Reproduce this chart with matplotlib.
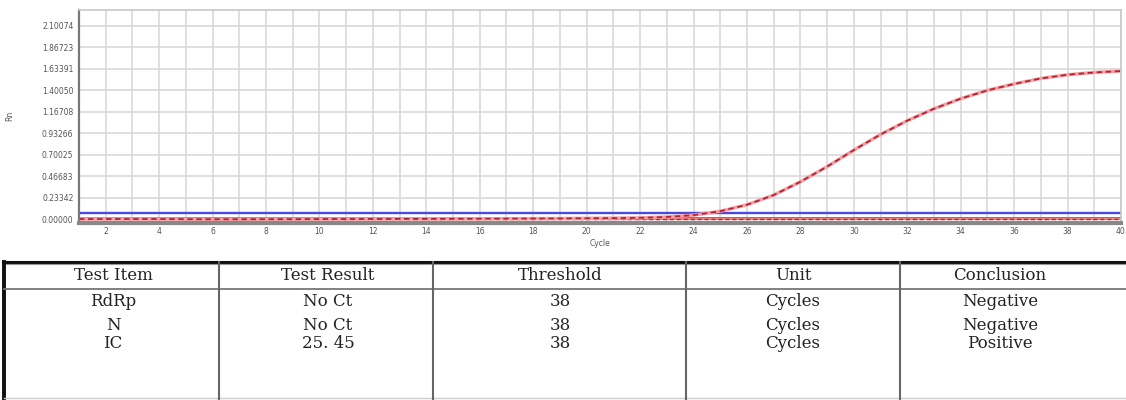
import numpy as np
import matplotlib.pyplot as plt
from matplotlib.ticker import MultipleLocator

# amplification data
cycles = list(range(1, 41))
ic_rn = [0.0, 0.0, 0.0, 0.0, -0.002, -0.003, -0.003, -0.002, -0.002, -0.001,
         0.0, 0.0, 0.001, 0.001, 0.002, 0.003, 0.004, 0.005, 0.006, 0.008,
         0.010, 0.013, 0.022, 0.042, 0.085, 0.155, 0.26, 0.405, 0.57, 0.75,
         0.92, 1.07, 1.20, 1.31, 1.40, 1.47, 1.53, 1.57, 1.595, 1.61]
flat_rn = [0.0] * 40
blue_threshold = 0.062
red_threshold = 0.008

ytick_labels = ["0.00000", "0.23342", "0.46683", "0.70025", "0.93266",
                "1.16708", "1.40050", "1.63391", "1.86723", "2.10074"]
xtick_values = list(range(2, 41, 2))

# result table
col_headers = ["Test Item", "Test Result", "Threshold", "Unit", "Conclusion"]
test_items = ["RdRp", "N", "IC"]
test_results = ["No Ct", "No Ct", "25. 45"]
thresholds = ["38", "38", "38"]
units = ["Cycles", "Cycles", "Cycles"]
conclusions = ["Negative", "Negative", "Positive"]


def main():
    W, H = 1126, 400
    fig = plt.figure(figsize=(W / 100, H / 100), dpi=100)
    fig.patch.set_facecolor('white')

    # --- amplification plot ---
    ax = fig.add_axes([79 / W, 1 - 223 / H, 1042 / W, 213.5 / H])
    ax.set_xlim(1, 40)
    ax.set_ylim(-0.0435, 2.28)

    ax.xaxis.set_minor_locator(MultipleLocator(1))
    ax.set_xticks(xtick_values)
    ax.set_yticks([float(s) for s in ytick_labels])
    ax.set_yticklabels(ytick_labels)
    ax.grid(True, which='both', color='#d6d6d6', lw=1.1)
    ax.set_axisbelow(True)
    ax.tick_params(which='both', length=0, labelsize=5.5, labelcolor='#555555')
    ax.tick_params(axis='y', pad=4)
    ax.tick_params(axis='x', pad=3)

    for side in ('top', 'right'):
        ax.spines[side].set_color('#c8c8c8')
        ax.spines[side].set_linewidth(1.2)
    ax.spines['left'].set_color('#777777')
    ax.spines['left'].set_linewidth(1.6)
    ax.spines['bottom'].set_color('#888888')
    ax.spines['bottom'].set_linewidth(3)

    ax.axhline(blue_threshold, color='#4a4ae0', lw=1.7)
    ax.axhline(red_threshold, color='#e83a3a', lw=2.0)
    ax.plot(cycles, flat_rn, color='#f08080', lw=1.5)
    ax.plot(cycles, flat_rn, color='#b8203a', lw=1.0, ls=(0, (3, 2)))
    ax.plot(cycles, ic_rn, color='#f4a0a0', lw=2.4)
    ax.plot(cycles, ic_rn, color='#b8203a', lw=1.3, ls=(0, (3, 2)))

    ax.set_xlabel("Cycle", fontsize=5.5, color='#555555', labelpad=2)
    ax.set_ylabel("Rn", fontsize=5.5, color='#555555', labelpad=20)

    # --- result table, drawn in pixel coordinates ---
    tb = fig.add_axes([0, 0, 1, 1])
    tb.set_xlim(0, W)
    tb.set_ylim(H, 0)
    tb.set_axis_off()
    tb.patch.set_alpha(0)

    tb.plot([3, W], [262, 262], color='#111111', lw=2.2)
    tb.plot([3, W], [264, 264], color='#999999', lw=0.8)
    tb.plot([4, 4], [262, 399], color='#111111', lw=2.8)
    tb.plot([4, W], [289, 289], color='#777777', lw=1.3)
    tb.plot([4, W], [398, 398], color='#cccccc', lw=1.0)
    for xc in (219, 433, 686, 900):
        tb.plot([xc, xc], [262, 399], color='#666666', lw=1.5)

    col_x = [113, 328, 560, 793, 1000]
    row_y = [302, 326, 343]
    font = dict(family='DejaVu Serif', fontsize=12, color='#222222',
                ha='center', va='center')
    for cx, name in zip(col_x, col_headers):
        tb.text(cx, 276, name, **font)
    columns = [test_items, test_results, thresholds, units, conclusions]
    for cx, col in zip(col_x, columns):
        for ry, val in zip(row_y, col):
            tb.text(cx, ry, val, **font)

    fig.savefig("out.png", dpi=100)
    plt.close(fig)


if __name__ == "__main__":
    main()
